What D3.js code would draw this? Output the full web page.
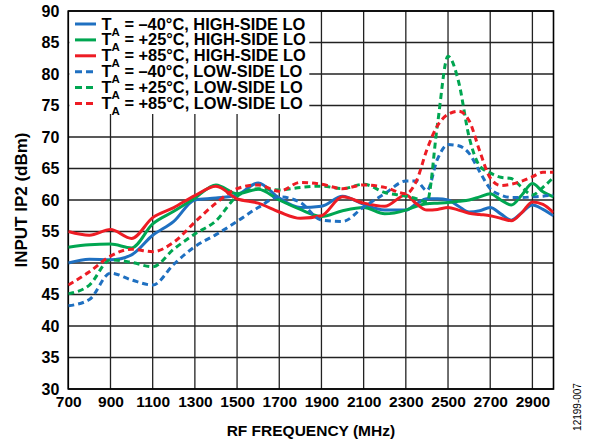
<!DOCTYPE html>
<html>
<head>
<meta charset="utf-8">
<script src="https://cdn.jsdelivr.net/npm/d3@7"></script>
<style>
  body { margin: 0; background: #fff; }
  svg { display: block; }
  text { font-family: "Liberation Sans", Arial, sans-serif; font-weight: bold; fill: #000; }
</style>
</head>
<body>
<svg id="chart" width="593" height="442"></svg>
<script>
// ---------- data ----------
const freqs = [700, 800, 900, 1000, 1100, 1200, 1300, 1400, 1500, 1600, 1700, 1800, 1900, 2000, 2100, 2200, 2300,
               2350, 2400, 2450, 2500, 2550, 2600, 2650, 2700, 2750, 2800, 2850, 2900, 2950, 3000];

const hsM40 = [50.0, 50.6, 50.5, 51.3, 54.4, 56.6, 60.0, 60.3, 60.8, 62.7, 60.3, 58.8, 59.0, 60.6, 59.3, 58.4, 58.4,
               59.4, 60.2, 60.2, 60.0, 59.0, 58.1, 58.3, 58.8, 57.8, 56.8, 58.0, 59.2, 58.5, 57.5];
const hsP25 = [52.5, 52.9, 53.0, 52.4, 56.2, 58.2, 60.3, 62.4, 61.0, 61.7, 60.0, 58.5, 57.4, 58.3, 58.8, 57.8, 58.4,
               59.0, 59.4, 59.5, 59.6, 59.8, 60.0, 60.5, 61.0, 60.0, 59.2, 60.8, 62.6, 61.3, 60.5];
const hsP85 = [55.0, 54.4, 55.3, 53.9, 57.2, 58.8, 60.7, 62.2, 60.2, 59.5, 58.1, 57.1, 57.5, 60.5, 59.5, 59.0, 60.8,
               59.4, 58.4, 58.5, 58.8, 58.4, 57.9, 57.7, 57.5, 57.1, 56.7, 58.0, 59.7, 59.3, 58.0];
const lsM40 = [43.2, 44.2, 48.4, 47.3, 46.5, 49.8, 52.6, 54.5, 56.6, 58.8, 60.5, 59.6, 56.8, 56.6, 58.9, 61.0, 63.0,
               63.0, 61.5, 66.5, 68.8, 68.6, 67.4, 64.5, 61.8, 60.8, 60.4, 60.4, 60.5, 60.6, 60.8];
const lsP25 = [45.1, 46.5, 50.5, 50.1, 49.4, 52.2, 54.6, 56.7, 60.6, 61.8, 61.6, 62.0, 62.2, 61.8, 62.5, 61.2, 60.6,
               60.2, 59.7, 72.0, 82.8, 78.8, 70.0, 65.4, 64.3, 63.6, 63.4, 62.0, 60.8, 62.0, 63.6];
const lsP85 = [46.5, 48.6, 51.1, 52.2, 51.8, 53.3, 56.5, 59.5, 61.8, 62.4, 61.4, 62.8, 62.5, 61.8, 62.4, 62.0, 61.0,
               63.0, 68.0, 71.8, 73.6, 74.1, 72.6, 67.8, 63.5, 62.3, 62.5, 63.0, 63.7, 64.4, 64.4];

const seriesValues = [hsM40, hsP25, hsP85, lsM40, lsP25, lsP85];
const seriesTemps = ["–40°C", "+25°C", "+85°C", "–40°C", "+25°C", "+85°C"];
const seriesSides = ["HIGH-SIDE LO", "HIGH-SIDE LO", "HIGH-SIDE LO", "LOW-SIDE LO", "LOW-SIDE LO", "LOW-SIDE LO"];

const xTicks = [700, 900, 1100, 1300, 1500, 1700, 1900, 2100, 2300, 2500, 2700, 2900];
const yTicks = [30, 35, 40, 45, 50, 55, 60, 65, 70, 75, 80, 85, 90];
const xTitle = "RF FREQUENCY (MHz)";
const yTitle = "INPUT IP2 (dBm)";
const figId = "12199-007";

// ---------- styles ----------
const colors = ["#1f70c1", "#00a651", "#ed1c24", "#1f70c1", "#00a651", "#ed1c24"];
const dashes = [null, null, null, "6,4", "6,4", "6,4"];

// ---------- layout ----------
const svg = d3.select("#chart");
const pL = 68.3, pR = 553.5, pT = 11, pB = 389;

const x = d3.scaleLinear().domain([700, 3000]).range([pL, pR]);
const y = d3.scaleLinear().domain([30, 90]).range([pB, pT]);

// grid
const grid = svg.append("g");
grid.selectAll("line.v").data(xTicks).join("line")
  .attr("x1", d => x(d)).attr("x2", d => x(d))
  .attr("y1", pT).attr("y2", pB)
  .attr("stroke", "#222").attr("stroke-width", 1.3);
grid.selectAll("line.h").data(yTicks).join("line")
  .attr("x1", pL).attr("x2", pR)
  .attr("y1", d => y(d)).attr("y2", d => y(d))
  .attr("stroke", "#222").attr("stroke-width", 1.3);

// legend background (covers grid)
svg.append("rect").attr("x", pL + 1).attr("y", pT + 1)
  .attr("width", 240).attr("height", 102).attr("fill", "#fff");

// frame
svg.append("rect").attr("x", pL).attr("y", pT)
  .attr("width", pR - pL).attr("height", pB - pT)
  .attr("fill", "none").attr("stroke", "#000").attr("stroke-width", 1.6);

// axes labels via d3 axes
const yAxis = svg.append("g").attr("transform", `translate(${pL},0)`)
  .call(d3.axisLeft(y).tickValues(yTicks).tickSize(0).tickPadding(9));
yAxis.select(".domain").remove();
yAxis.selectAll("text").attr("font-size", 16).attr("font-family", null)
  .style("font-family", '"Liberation Sans", Arial, sans-serif').style("font-weight", "bold").attr("fill", "#000");

const xAxis = svg.append("g").attr("transform", `translate(0,${pB})`)
  .call(d3.axisBottom(x).tickValues(xTicks).tickSize(0).tickPadding(7).tickFormat(d3.format("d")));
xAxis.select(".domain").remove();
xAxis.selectAll("text").attr("font-size", 15.5).attr("font-family", null)
  .style("font-family", '"Liberation Sans", Arial, sans-serif').style("font-weight", "bold").attr("fill", "#000");

// titles
svg.append("text").attr("x", (pL + pR) / 2).attr("y", 436)
  .attr("text-anchor", "middle").attr("font-size", 15.5).text(xTitle);
svg.append("text").attr("transform", `translate(27,${(pT + pB) / 2}) rotate(-90)`)
  .attr("text-anchor", "middle").attr("font-size", 17).text(yTitle);
svg.append("text").attr("transform", `translate(581,407) rotate(-90)`)
  .attr("text-anchor", "middle").attr("font-size", 10).style("font-weight", "normal").text(figId);

// lines
svg.append("clipPath").attr("id", "plotclip").append("rect")
  .attr("x", pL).attr("y", pT).attr("width", pR - pL).attr("height", pB - pT);
const line = d3.line().x((d, i) => x(freqs[i])).y(d => y(d)).curve(d3.curveMonotoneX);
const linesG = svg.append("g").attr("clip-path", "url(#plotclip)");
seriesValues.forEach((vals, k) => {
  linesG.append("path").datum(vals)
    .attr("d", line)
    .attr("fill", "none")
    .attr("stroke", colors[k])
    .attr("stroke-width", 3)
    .attr("stroke-dasharray", dashes[k])
    .attr("stroke-linejoin", "round");
});

// legend
const lg = svg.append("g");
seriesValues.forEach((vals, k) => {
  const ly = 24 + k * 15.9;
  lg.append("line").attr("x1", 75).attr("x2", 96).attr("y1", ly).attr("y2", ly)
    .attr("stroke", colors[k]).attr("stroke-width", 3).attr("stroke-dasharray", dashes[k] ? "7,4" : null);
  const t = lg.append("text").attr("x", 101.5).attr("y", ly + 5.5).attr("font-size", 16.4);
  t.append("tspan").text("T");
  t.append("tspan").attr("font-size", 11.5).attr("dy", 6).text("A");
  t.append("tspan").attr("dy", -6).text(` = ${seriesTemps[k]}, ${seriesSides[k]}`);
});
</script>
</body>
</html>
